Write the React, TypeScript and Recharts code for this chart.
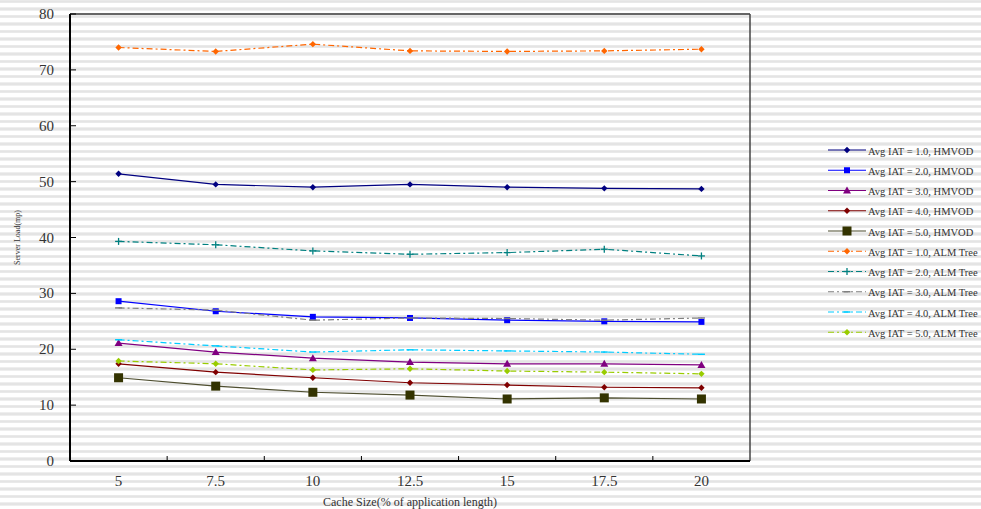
import React from "react";
import { LineChart, Line, XAxis, YAxis, Legend, ReferenceLine } from "recharts";

const cacheSizes = [5, 7.5, 10, 12.5, 15, 17.5, 20];
const yTicks = [0, 10, 20, 30, 40, 50, 60, 70, 80];

const hmvod1 = [51.4, 49.5, 49.0, 49.5, 49.0, 48.8, 48.7];
const hmvod2 = [28.6, 26.8, 25.8, 25.6, 25.2, 25.0, 24.9];
const hmvod3 = [21.1, 19.5, 18.4, 17.7, 17.4, 17.4, 17.2];
const hmvod4 = [17.4, 15.9, 14.9, 14.0, 13.6, 13.2, 13.1];
const hmvod5 = [14.9, 13.4, 12.3, 11.8, 11.1, 11.3, 11.1];
const alm1 = [74.0, 73.3, 74.6, 73.4, 73.3, 73.4, 73.7];
const alm2 = [39.3, 38.7, 37.6, 37.0, 37.3, 37.9, 36.7];
const alm3 = [27.4, 27.0, 25.2, 25.6, 25.5, 25.2, 25.6];
const alm4 = [21.7, 20.6, 19.5, 19.9, 19.7, 19.5, 19.1];
const alm5 = [17.9, 17.4, 16.3, 16.5, 16.1, 15.9, 15.6];

const FONT = '"Liberation Serif", "Times New Roman", serif';
const DASH = "6 3 2 3";

const series = [
  { key: "h1", name: "Avg IAT = 1.0, HMVOD", values: hmvod1, color: "#000080", line: "#000080", dash: undefined, shape: "diamond" },
  { key: "h2", name: "Avg IAT = 2.0, HMVOD", values: hmvod2, color: "#0000ff", line: "#0000ff", dash: undefined, shape: "square" },
  { key: "h3", name: "Avg IAT = 3.0, HMVOD", values: hmvod3, color: "#800080", line: "#800080", dash: undefined, shape: "triangle" },
  { key: "h4", name: "Avg IAT = 4.0, HMVOD", values: hmvod4, color: "#800000", line: "#800000", dash: undefined, shape: "diamond" },
  { key: "h5", name: "Avg IAT = 5.0, HMVOD", values: hmvod5, color: "#333300", line: "#4d4d2e", dash: undefined, shape: "bigsquare" },
  { key: "a1", name: "Avg IAT = 1.0, ALM Tree", values: alm1, color: "#ff6600", line: "#ff6600", dash: DASH, shape: "diamond" },
  { key: "a2", name: "Avg IAT = 2.0, ALM Tree", values: alm2, color: "#008080", line: "#008080", dash: DASH, shape: "plus" },
  { key: "a3", name: "Avg IAT = 3.0, ALM Tree", values: alm3, color: "#808080", line: "#808080", dash: DASH, shape: "dash" },
  { key: "a4", name: "Avg IAT = 4.0, ALM Tree", values: alm4, color: "#00ccff", line: "#00ccff", dash: DASH, shape: "dash" },
  { key: "a5", name: "Avg IAT = 5.0, ALM Tree", values: alm5, color: "#99cc00", line: "#99cc00", dash: DASH, shape: "diamond" },
];

const data = cacheSizes.map((x, i) => {
  const row: any = { x };
  series.forEach((s) => (row[s.key] = s.values[i]));
  return row;
});

const half = (cacheSizes[1] - cacheSizes[0]) / 2;
const xDomain = [cacheSizes[0] - half, cacheSizes[cacheSizes.length - 1] + half];
const xTicks = [...cacheSizes, ...cacheSizes.slice(1).map((v) => v - half)].sort((a, b) => a - b);

const Marker = ({ shape, cx, cy, color }: any) => {
  if (cx == null || cy == null) return null;
  switch (shape) {
    case "diamond":
      return <path d={`M${cx},${cy - 3.2}L${cx + 3.2},${cy}L${cx},${cy + 3.2}L${cx - 3.2},${cy}Z`} fill={color} />;
    case "square":
      return <rect x={cx - 3} y={cy - 3} width={6} height={6} fill={color} />;
    case "bigsquare":
      return <rect x={cx - 4.5} y={cy - 4.5} width={9} height={9} fill={color} />;
    case "triangle":
      return <path d={`M${cx},${cy - 4}L${cx + 4},${cy + 3}L${cx - 4},${cy + 3}Z`} fill={color} />;
    case "plus":
      return (
        <g stroke={color} strokeWidth={1.3}>
          <line x1={cx - 3.5} x2={cx + 3.5} y1={cy} y2={cy} />
          <line x1={cx} x2={cx} y1={cy - 3.5} y2={cy + 3.5} />
        </g>
      );
    case "dash":
      return <line x1={cx - 3.5} x2={cx + 3.5} y1={cy} y2={cy} stroke={color} strokeWidth={1.5} />;
    default:
      return null;
  }
};

const XTick = ({ x, y, payload }: any) => {
  if (cacheSizes.includes(payload.value)) {
    return (
      <text x={x} y={y + 20} textAnchor="middle" dominantBaseline="central" fontSize={15} fill="#333" fontFamily={FONT}>
        {payload.value}
      </text>
    );
  }
  return <line x1={x} x2={x} y1={y} y2={y - 5} stroke="#000" strokeWidth={1} />;
};

const YTick = ({ x, y, payload }: any) => (
  <g>
    <text x={x - 16} y={y} textAnchor="end" dominantBaseline="central" fontSize={15} fill="#333" fontFamily={FONT}>
      {payload.value}
    </text>
    <line x1={x} x2={x + 6} y1={y} y2={y} stroke="#000" strokeWidth={1} />
  </g>
);

const YTitle = ({ viewBox }: any) => {
  const cx = viewBox.x + 17;
  const cy = viewBox.y + viewBox.height / 2;
  return (
    <text x={cx} y={cy} transform={`rotate(-90 ${cx} ${cy})`} textAnchor="middle" dominantBaseline="central" fontSize={8} fill="#333" fontFamily={FONT}>
      Server Load(mp)
    </text>
  );
};

const LegendBox = () => (
  <svg width={155} height={210}>
    {series.map((s, i) => {
      const y = 11 + i * 20.25;
      return (
        <g key={s.key}>
          <line x1={2} x2={40} y1={y} y2={y} stroke={s.line} strokeWidth={1.2} strokeDasharray={s.dash} />
          <Marker shape={s.shape} cx={21} cy={y} color={s.color} />
          <text x={42} y={y + 1} dominantBaseline="central" fontSize={10.5} fill="#333" fontFamily={FONT}>
            {s.name}
          </text>
        </g>
      );
    })}
  </svg>
);

const stripes =
  "repeating-linear-gradient(to bottom, #eeeeee 0px, #e4e4e4 1px, #e4e4e4 2px, #eeeeee 3px, #ffffff 3.5px, #ffffff 7.5px)";

export default function App() {
  return (
    <div style={{ position: "absolute", left: 0, top: 0, width: 981, height: 509, background: stripes }}>
      <LineChart width={981} height={509} data={data} margin={{ top: 14, right: 231, bottom: 0, left: 0 }}>
        <XAxis
          dataKey="x"
          type="number"
          domain={xDomain}
          ticks={xTicks}
          interval={0}
          tickSize={0}
          tickMargin={0}
          tickLine={false}
          tick={<XTick />}
          height={48}
          axisLine={{ stroke: "#000", strokeWidth: 2 }}
          label={{ value: "Cache Size(% of application length)", position: "insideBottom", offset: 3, fontSize: 12, fill: "#333", fontFamily: FONT }}
        />
        <YAxis
          type="number"
          domain={[0, 80]}
          ticks={yTicks}
          interval={0}
          tickSize={0}
          tickMargin={0}
          tickLine={false}
          tick={<YTick />}
          width={70}
          axisLine={{ stroke: "#000", strokeWidth: 2 }}
          label={<YTitle />}
        />
        <ReferenceLine y={80} stroke="#333" strokeWidth={1.5} />
        <ReferenceLine x={xDomain[1]} stroke="#444" strokeWidth={1.5} />
        {series.map((s) => (
          <Line
            key={s.key}
            dataKey={s.key}
            name={s.name}
            stroke={s.line}
            strokeWidth={1.2}
            strokeDasharray={s.dash}
            isAnimationActive={false}
            dot={(p: any) => <Marker key={`${s.key}-${p.index}`} shape={s.shape} cx={p.cx} cy={p.cy} color={s.color} />}
            activeDot={false}
          />
        ))}
        <Legend layout="vertical" align="center" verticalAlign="middle" content={<LegendBox />} wrapperStyle={{ left: 826, top: 139, width: 155 }} />
      </LineChart>
    </div>
  );
}
